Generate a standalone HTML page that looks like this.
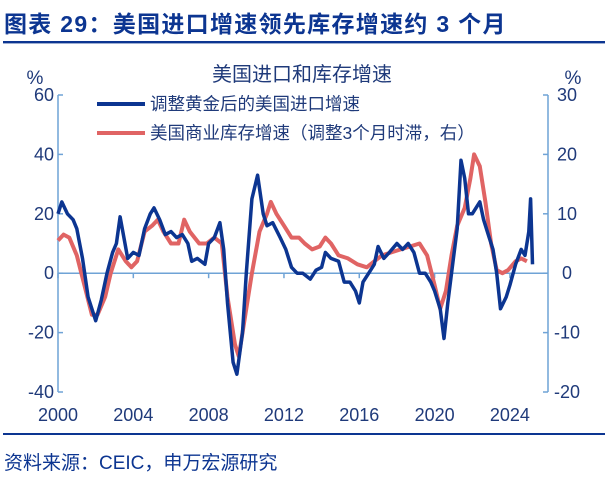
<!DOCTYPE html>
<html><head><meta charset="utf-8">
<style>
body{margin:0;background:#fff;}
svg{display:block;font-family:"Liberation Sans","Noto Sans CJK SC",sans-serif;}
</style></head>
<body>
<svg id="chart" width="609" height="484" viewBox="0 0 609 484">
<text x="4" y="32" font-size="23" font-weight="bold" fill="#0c3591" letter-spacing="1.3">图表 29：美国进口增速领先库存增速约 3 个月</text>
<rect x="3" y="41" width="602" height="2.4" fill="#0c3591"/>
<rect x="3" y="433" width="602" height="2" fill="#0c3591"/>
<text x="4" y="469" font-size="19" fill="#0c3591">资料来源：CEIC，申万宏源研究</text>
<text x="302" y="81" font-size="20" fill="#1f3a7a" text-anchor="middle">美国进口和库存增速</text>
<line x1="97" y1="104" x2="145" y2="104" stroke="#0c3591" stroke-width="4"/>
<text x="150" y="110" font-size="17.5" fill="#1f3a7a">调整黄金后的美国进口增速</text>
<line x1="97" y1="133" x2="145" y2="133" stroke="#e06464" stroke-width="4"/>
<text x="150" y="139" font-size="17.5" fill="#1f3a7a">美国商业库存增速（调整3个月时滞，右）</text>
<text x="35" y="84" font-size="19" fill="#1f3a7a" text-anchor="middle">%</text>
<text x="573" y="84" font-size="19" fill="#1f3a7a" text-anchor="middle">%</text>
<g id="axes"></g>
<g id="series"></g>
</svg>
<script>
const leftTicks=[60,40,20,0,-20,-40];
const rightTicks=[30,20,10,0,-10,-20];
const yearTicks=[2000,2004,2008,2012,2016,2020,2024];
const importYears=[2000.0,2000.2,2000.5,2000.8,2001.0,2001.3,2001.6,2001.9,2002.0,2002.3,2002.6,2002.9,2003.1,2003.3,2003.5,2003.7,2004.0,2004.3,2004.6,2004.9,2005.1,2005.4,2005.7,2006.0,2006.3,2006.6,2006.9,2007.1,2007.4,2007.8,2008.0,2008.3,2008.6,2008.8,2009.0,2009.3,2009.5,2009.8,2010.0,2010.3,2010.6,2010.9,2011.1,2011.4,2011.8,2012.1,2012.4,2012.7,2013.0,2013.4,2013.7,2014.0,2014.2,2014.5,2014.9,2015.2,2015.5,2015.8,2016.0,2016.2,2016.5,2016.8,2017.0,2017.3,2017.6,2018.0,2018.3,2018.6,2018.9,2019.2,2019.5,2019.8,2020.0,2020.3,2020.5,2020.7,2021.0,2021.2,2021.4,2021.6,2021.8,2022.0,2022.2,2022.4,2022.6,2022.9,2023.1,2023.3,2023.5,2023.8,2024.0,2024.3,2024.6,2024.8,2025.0,2025.1,2025.2];
const importValues=[20,24,20,18,15,5,-8,-14,-16,-9,0,7,10,19,12,5,7,6,15,20,22,18,13,14,12,13,10,4,5,3,10,12,17,8,-10,-30,-34,-20,0,25,33,20,16,17,12,8,2,0,0,-2,1,2,7,5,4,-3,-3,-6,-10,-3,0,3,9,5,7,10,8,10,7,0,0,-3,-6,-12,-22,-10,5,15,38,32,20,20,22,24,18,12,8,0,-12,-8,-4,3,8,6,14,25,3];
const invYears=[2000.0,2000.3,2000.6,2001.0,2001.4,2001.8,2002.1,2002.5,2002.8,2003.2,2003.6,2003.9,2004.2,2004.6,2005.0,2005.3,2005.6,2006.0,2006.4,2006.7,2007.0,2007.5,2007.9,2008.3,2008.7,2009.0,2009.4,2009.6,2009.9,2010.3,2010.7,2011.1,2011.3,2011.6,2012.0,2012.4,2012.8,2013.1,2013.5,2013.9,2014.2,2014.5,2014.9,2015.4,2015.9,2016.4,2016.8,2017.2,2017.7,2018.2,2018.7,2019.2,2019.6,2020.0,2020.3,2020.6,2020.9,2021.2,2021.6,2021.9,2022.1,2022.4,2022.7,2023.0,2023.3,2023.6,2023.9,2024.3,2024.6,2024.9];
const invValues=[5.5,6.5,6,3,-2,-7,-7,-4,0,4,2,1,2,7,8,9,7,5,5,9,7,5,5,6,5,-4,-12,-14,-8,0,7,10,12,10,8,6,6,5,4,4.5,6,5,3,2.5,1.5,1,2,3,3.5,4,4.5,5,3,-2,-6,-3,3,8,11,16,20,18,12,5,0.5,0,0.5,2,2.5,2];

const NS="http://www.w3.org/2000/svg";
const X0=58,X1=548,YT=95,YB=392;
const xs=y=>X0+(y-2000)*18.83;
const yl=v=>YT+(60-v)/100*(YB-YT);
const yr=v=>YT+(30-v)/50*(YB-YT);
const axes=document.getElementById('axes'),series=document.getElementById('series');
function mk(tag,attrs,parent){const e=document.createElementNS(NS,tag);for(const k in attrs)e.setAttribute(k,attrs[k]);parent.appendChild(e);return e;}
const ac="#6fa3d6",tc="#1f3a7a";
let e;
e=mk('line',{x1:X0,y1:YT,x2:X0,y2:YB,stroke:ac,'stroke-width':1.5},axes);


e=mk('line',{x1:X1,y1:YT,x2:X1,y2:YB,stroke:ac,'stroke-width':1.5},axes);


e=mk('line',{x1:X0,y1:yl(0),x2:X1,y2:yl(0),stroke:ac,'stroke-width':1.5},axes);


leftTicks.forEach(v=>{
  mk('line',{x1:X0,y1:yl(v),x2:X0+5,y2:yl(v),stroke:ac,'stroke-width':1.5},axes);
  e=mk('text',{x:X0-4,y:yl(v)+6,'font-size':18,fill:tc,'text-anchor':'end'},axes);
  e.textContent=v;
  
  
});
rightTicks.forEach(v=>{
  mk('line',{x1:X1-5,y1:yr(v),x2:X1,y2:yr(v),stroke:ac,'stroke-width':1.5},axes);
  e=mk('text',{x:X1+19,y:yr(v)+6,'font-size':18,fill:tc,'text-anchor':'middle'},axes);
  e.textContent=v;
  
  
});
yearTicks.forEach(y=>{
  mk('line',{x1:xs(y),y1:yl(0),x2:xs(y),y2:yl(0)+5,stroke:ac,'stroke-width':1.5},axes);
  e=mk('text',{x:xs(y),y:421,'font-size':18,fill:tc,'text-anchor':'middle'},axes);
  e.textContent=y;
  
  
});
e=mk('path',{d:invYears.map((y,i)=>(i?'L':'M')+xs(y).toFixed(1)+' '+yr(invValues[i]).toFixed(1)).join(''),fill:'none',stroke:'#e06464','stroke-width':4,'stroke-linejoin':'round'},series);


e=mk('path',{d:importYears.map((y,i)=>(i?'L':'M')+xs(y).toFixed(1)+' '+yl(importValues[i]).toFixed(1)).join(''),fill:'none',stroke:'#0c3591','stroke-width':3.5,'stroke-linejoin':'round'},series);


</script>
</body></html>
